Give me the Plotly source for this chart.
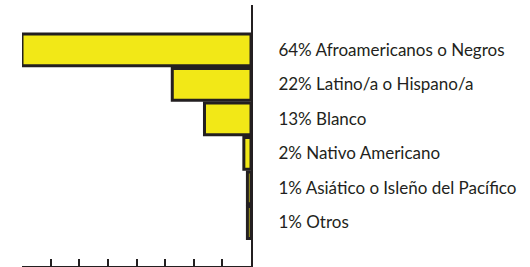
import plotly.graph_objects as go

categories = ["Afroamericanos o Negros", "Latino/a o Hispano/a", "Blanco",
              "Nativo Americano", "Asiático o Isleño del Pacífico", "Otros"]
values = [64, 22, 13, 2, 1, 1]
labels = [f"{v}% {c}" for v, c in zip(values, categories)]
positions = list(range(len(categories)))
x_ticks = [0, 8, 16, 24, 32, 40, 48, 56, 64]

fig = go.Figure(go.Bar(
    x=values, y=positions, orientation="h",
    marker=dict(color="#f2e817", line=dict(color="#231f20", width=3)),
    width=0.92, hoverinfo="skip",
))

fig.update_layout(
    width=530, height=267,
    margin=dict(l=22, r=279, t=5, b=1),
    paper_bgcolor="white", plot_bgcolor="white",
    showlegend=False,
    font=dict(family="Lato", size=17, color="#231f20"),
)
fig.update_xaxes(
    range=[64, 0], tickvals=x_ticks, showticklabels=False,
    ticks="inside", ticklen=7, tickwidth=2, tickcolor="#231f20",
    showline=True, linewidth=2, linecolor="#231f20",
    showgrid=False, zeroline=False,
)
fig.update_yaxes(
    range=[6.26, -1.3], tickvals=positions, ticktext=labels,
    side="right", showline=True, linewidth=2, linecolor="#231f20",
    ticks="", ticklabelstandoff=22,
    showgrid=False, zeroline=False, automargin=False,
)
fig.write_html("out.html", config={"displayModeBar": False},
               post_script="document.body.style.margin='0';")
